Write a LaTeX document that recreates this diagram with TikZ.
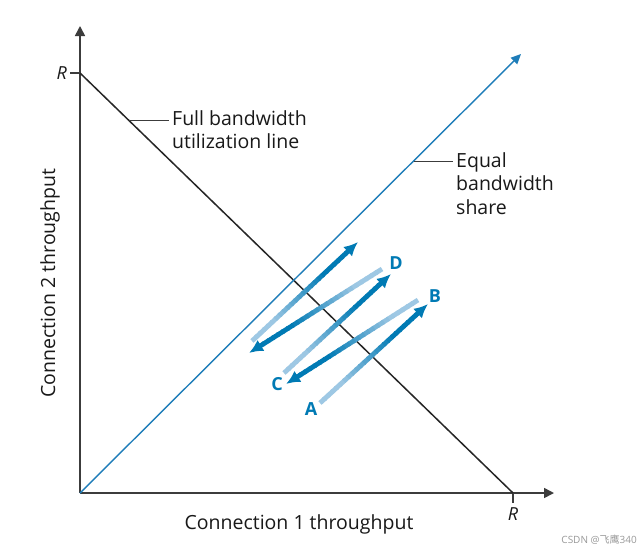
\documentclass[tikz,border=0pt]{standalone}
\usepackage{fontspec}
\setmainfont{Open Sans}
\newfontfamily\cjkfont{Noto Sans CJK SC}
\usetikzlibrary{calc,arrows.meta}
\definecolor{lightb}{RGB}{158,200,228}
\definecolor{darkb}{RGB}{0,122,180}
\definecolor{eqline}{RGB}{30,125,185}
\definecolor{axisc}{RGB}{60,60,60}
\tikzset{
  axis/.style={axisc, line width=1.6pt, -{Triangle[length=10pt,width=10pt]}},
  fullline/.style={black!85, line width=1.5pt},
  eqstyle/.style={eqline, line width=1.4pt, -{Triangle[length=10pt,width=9pt]}},
  leader/.style={axisc, line width=0.9pt},
  lbl/.style={font=\fontsize{19.5}{23.5}\selectfont, text=black!90, inner sep=0pt},
  ptlbl/.style={font=\fontsize{18}{20}\selectfont\bfseries, text=darkb, inner sep=0pt},
  tipst/.style={darkb, line width=4.8pt, -{Latex[length=14pt,width=13pt]}, shorten >=0pt}
}
\newcommand{\gradarrow}[2]{%
  \foreach \i in {0,...,24} {%
    \pgfmathsetmacro\pa{\i/25}%
    \pgfmathsetmacro\pb{(\i+1.3)/25}%
    \pgfmathsetmacro\mix{max(0,min(100,(\i/24-0.2)/0.55*100))}%
    \draw[line width=4.8pt, color=darkb!\mix!lightb]
      ($(#1)!\pa!($(#2)!12pt!(#1)$)$) -- ($(#1)!\pb!($(#2)!12pt!(#1)$)$);
  }%
  \draw[tipst] ($(#2)!14pt!(#1)$) -- (#2);
}
\begin{document}
\begin{tikzpicture}[x=1pt,y=-1pt]
\useasboundingbox[fill=white] (0,0) rectangle (644,552);
% axes
\coordinate (O) at (80,493);
\coordinate (Ytop) at (80,26);
\coordinate (Xend) at (554,493);
\coordinate (Ry) at (80,73);
\coordinate (Rx) at (513,493);
\coordinate (EqEnd) at (521,54);
\draw[axis] (O) -- (Ytop);
\draw[axis] (O) -- (Xend);
% ticks
\coordinate (RyT) at (70,73);
\coordinate (RxT) at (513,503);
\draw[axisc, line width=1.2pt] (RyT) -- (Ry);
\draw[axisc, line width=1.2pt] (Rx) -- (RxT);
\node[lbl, font=\fontsize{18}{20}\selectfont\itshape, anchor=east] (Rylbl) at (67,73) {R};
\node[lbl, font=\fontsize{18}{20}\selectfont\itshape, anchor=north] (Rxlbl) at (513,507) {R};
% main lines
\draw[fullline] (Ry) -- (Rx);
\draw[eqstyle] (O) -- (EqEnd);
% leaders
\coordinate (L1a) at (129,120);
\coordinate (L1b) at (169,120);
\draw[leader] (L1a) -- (L1b);
\node[lbl, anchor=north west, align=left] (fulltxt) at (172,110) {Full bandwidth\\utilization line};
\coordinate (L2a) at (414,161);
\coordinate (L2b) at (453,161);
\draw[leader] (L2a) -- (L2b);
\node[lbl, anchor=north west, align=left] (eqtxt) at (456,152) {Equal\\bandwidth\\share};
% axis titles
\node[lbl] (xtitle) at (299,524) {Connection 1 throughput};
\node[lbl, rotate=90] (ytitle) at (50,283) {Connection 2 throughput};
% trajectory
\coordinate (S1) at (320,403); \coordinate (E1) at (428,304);
\coordinate (S2) at (418,300); \coordinate (E2) at (286,384);
\coordinate (S3) at (284,373); \coordinate (E3) at (391,274);
\coordinate (S4) at (382,269); \coordinate (E4) at (249,353);
\coordinate (S5) at (252,341); \coordinate (E5) at (358,242);
\gradarrow{S1}{E1}
\gradarrow{S2}{E2}
\gradarrow{S3}{E3}
\gradarrow{S4}{E4}
\gradarrow{S5}{E5}
\node[ptlbl] (A) at (311,409) {A};
\node[ptlbl] (B) at (435,296) {B};
\node[ptlbl] (C) at (277,384) {C};
\node[ptlbl] (D) at (396,263) {D};
% watermark
\node[font=\fontsize{10}{12}\selectfont, text=black!40, anchor=east, inner sep=0pt] (wm) at (637,540) {CSDN @{\cjkfont 飞鹰}340};
\end{tikzpicture}
\end{document}
